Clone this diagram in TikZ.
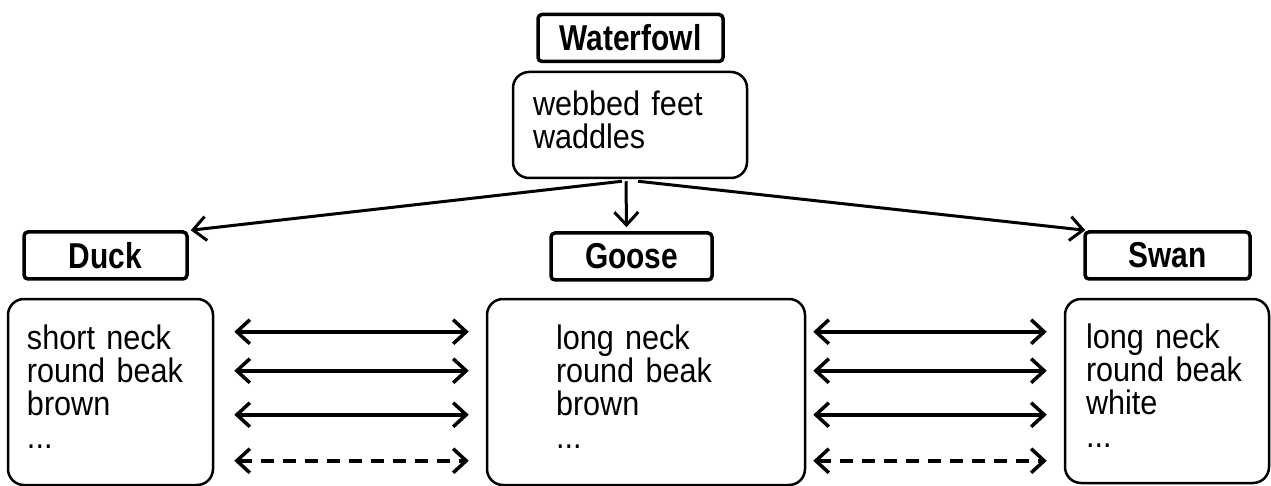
\documentclass[tikz,border=0pt]{standalone}
\usepackage{fontspec}
\setmainfont{Liberation Sans}[FakeStretch=0.9]
\newfontfamily\titlefont{Liberation Sans}[FakeStretch=0.83]
\newcommand\mylistfont{\fontsize{34}{33}\selectfont\spaceskip=0.2em plus 0.05em\relax}
\usetikzlibrary{arrows.meta,calc}
\tikzset{
  titlebox/.style={draw, line width=3.5pt, rounded corners=4pt, inner sep=0pt,
    minimum height=47pt, font=\titlefont\bfseries\fontsize{36}{40}\selectfont},
  listbox/.style={draw, line width=2.5pt, rounded corners=16pt, align=left,
    inner ysep=0pt, font=\mylistfont},
  link/.style={line width=3pt, -{Straight Barb[length=13pt,width=24pt]}},
  pair/.style={line width=3.5pt, {Straight Barb[length=13pt,width=24pt]}-{Straight Barb[length=13pt,width=24pt]}},
  maybepair/.style={pair, dash pattern=on 13pt off 9pt}
}
\begin{document}
\begin{tikzpicture}[x=1pt,y=-1pt]
\useasboundingbox (0,0) rectangle (1271,486);
\fill[white] (0,0) rectangle (1271,486);
% titles
\node[titlebox, minimum width=185pt] (waterfowl) at (630.5,38) {Waterfowl};
\node[titlebox, minimum width=163pt] (duck) at (105.5,255.5) {Duck};
\node[titlebox, minimum width=161pt] (goose) at (631.5,256.5) {Goose};
\node[titlebox, minimum width=165pt] (swan) at (1167.5,255.5) {Swan};
% contents
\node[listbox, inner xsep=20pt, text width=194pt, minimum height=106pt] (feat) at (630,125)
  {webbed feet\\waddles\strut};
\node[listbox, inner xsep=19pt, text width=167pt, minimum height=186pt] (duckbox) at (110.5,392)
  {short neck\\round beak\\brown\\...\strut};
\node[listbox, inner xsep=69pt, text width=180pt, minimum height=186pt] (goosebox) at (646,392)
  {long neck\\round beak\\brown\\...\strut};
\node[listbox, inner xsep=21pt, text width=162pt, minimum height=184pt] (swanbox) at (1167,391)
  {long neck\\round beak\\white\\...\strut};
% hierarchy arrows
\draw[link] ($(feat.south)+(-8,2)$) -- ($(duck.north east)+(2,0)$);
\draw[link] ($(feat.south)+(-4,2)$) -- ($(goose.north)+(-5,-4)$);
\draw[link] ($(feat.south)+(8,2)$) -- ($(swan.north west)+(2,0)$);
% comparison arrows
\foreach \dy/\sty in {34/pair,73/pair,117/pair,163/maybepair}{
  \draw[\sty] ($(duckbox.north east)+(20,\dy)$) -- ($(goosebox.north west)+(-17,\dy)$);
  \draw[\sty] ($(goosebox.north east)+(7,\dy)$) -- ($(swanbox.north west)+(-17,\dy)$);
}
\end{tikzpicture}
\end{document}
